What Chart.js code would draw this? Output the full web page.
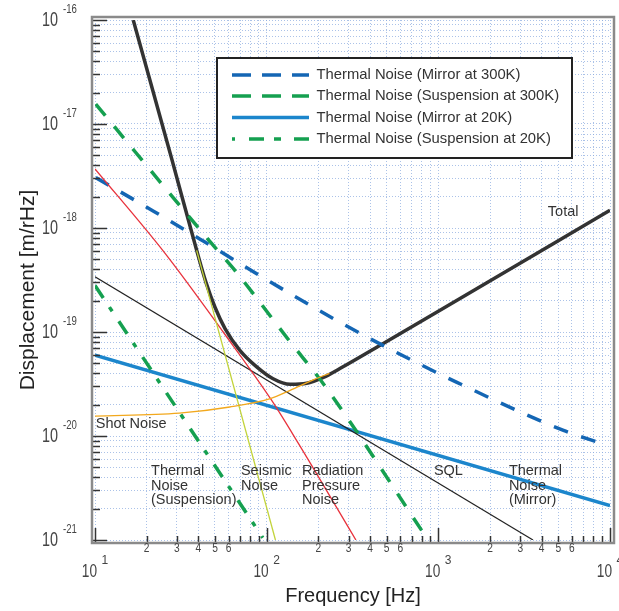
<!DOCTYPE html>
<html>
<head>
<meta charset="utf-8">
<script src="https://cdn.jsdelivr.net/npm/chart.js@4.4.1/dist/chart.umd.min.js"></script>
<style>
  html, body { margin: 0; padding: 0; background: #fff; }
  #wrap { width: 619px; height: 611px; }
</style>
</head>
<body>
<div id="wrap"><canvas id="noise_chart" width="619" height="611"></canvas></div>
<script>
(function() {
  'use strict';

  // Curves (frequency in Hz, displacement in m/rHz)
  var total_freq = [16.7, 28, 39.1, 44.3, 50, 57.2, 69.8, 87.5, 109, 137, 171, 214, 267, 478, 1000, 10000];
  var total_disp = [1.0e-16, 4.6e-18, 6.1e-19, 3.0e-19, 1.73e-19, 1.08e-19, 6.67e-20, 4.62e-20, 3.55e-20, 3.14e-20, 3.21e-20, 3.66e-20, 4.45e-20, 7.76e-20, 1.58e-19, 1.48e-18];

  var shot_freq = [10, 31, 61, 105, 137, 187, 232];
  var shot_disp = [1.55e-20, 1.66e-20, 1.9e-20, 2.29e-20, 2.75e-20, 3.47e-20, 4.0e-20];

  var seismic_freq = [39.1, 112.5];
  var seismic_disp = [6.1e-19, 1.0e-21];

  var radiation_freq = [10, 25.6, 55.8, 107, 153, 331];
  var radiation_disp = [3.7e-18, 5.7e-19, 1.0e-19, 2.2e-20, 8.5e-21, 1.0e-21];

  var sql_freq = [10, 3560];
  var sql_disp = [3.4e-19, 1.0e-21];

  var mirror300_freq = [10.1, 21.8, 43.2, 87.5, 256, 478, 1274, 5358, 8730];
  var mirror300_disp = [3.05e-18, 1.46e-18, 7.4e-19, 3.63e-19, 1.29e-19, 7.4e-20, 3.3e-20, 1.13e-20, 8.6e-21];

  var susp300_freq = [10.1, 50, 64.6, 135, 221, 871];
  var susp300_disp = [1.55e-17, 6.5e-19, 4.0e-19, 8.3e-20, 2.95e-20, 1.0e-21];

  var mirror20_freq = [10, 10000];
  var mirror20_disp = [6.0e-20, 2.14e-21];

  var susp20_freq = [10, 95];
  var susp20_disp = [2.8e-19, 1.05e-21];

  // Tick labels
  var x_decades = [1, 2, 3, 4];
  var x_minor_labels = [2, 3, 4, 5, 6];
  var y_decades = [-16, -17, -18, -19, -20, -21];

  var legend_labels = [
    'Thermal Noise (Mirror at 300K)',
    'Thermal Noise (Suspension at 300K)',
    'Thermal Noise (Mirror at 20K)',
    'Thermal Noise (Suspension at 20K)'
  ];

  // In-plot labels, anchored at [frequency, displacement] of their first line
  var notes = [
    { lines: ['Total'], f: 4345, d: 1.41e-18 },
    { lines: ['Shot Noise'], f: 10.1, d: 1.29e-20 },
    { lines: ['Thermal', 'Noise', '(Suspension)'], f: 21.2, d: 4.6e-21 },
    { lines: ['Seismic', 'Noise'], f: 70.8, d: 4.6e-21 },
    { lines: ['Radiation', 'Pressure', 'Noise'], f: 160.7, d: 4.6e-21 },
    { lines: ['SQL'], f: 942, d: 4.6e-21 },
    { lines: ['Thermal', 'Noise', '(Mirror)'], f: 2576, d: 4.6e-21 }
  ];

  var FONT = '"Liberation Sans", Arial, Helvetica, sans-serif';

  var zip = function(xs, ys) {
    return xs.map(function(x, i) { return { x: x, y: ys[i] }; });
  };

  // 1..9 x 10^n values used for grid lines and tick marks
  var decadeSteps = function(lo, hi) {
    var out = [];
    for (var e = lo; e < hi; e++) {
      for (var m = 1; m < 10; m++) {
        out.push(parseFloat((m * Math.pow(10, e)).toPrecision(3)));
      }
    }
    out.push(Math.pow(10, hi));
    return out;
  };
  var x_grid = decadeSteps(1, 4);
  var y_grid = decadeSteps(-21, -16);

  var isMajor = function(v) {
    var l = Math.log10(v);
    return Math.abs(l - Math.round(l)) < 1e-6;
  };

  var line = function(label, xs, ys, color, width, dash, smooth) {
    return {
      label: label,
      data: zip(xs, ys),
      borderColor: color,
      backgroundColor: color,
      borderWidth: width,
      borderDash: dash || [],
      borderCapStyle: 'butt',
      pointRadius: 0,
      showLine: true,
      fill: false,
      cubicInterpolationMode: smooth ? 'monotone' : 'default',
      tension: 0
    };
  };

  var BLUE_DASH = '#1466b4';
  var BLUE_SOLID = '#1c86cc';
  var GREEN = '#15a050';
  var DASH_300 = [15, 14];
  var DASH_20 = [15, 11, 5, 12];

  var datasets = [
    line('Shot Noise', shot_freq, shot_disp, '#f2a81d', 1.3, null, true),
    line('Seismic Noise', seismic_freq, seismic_disp, '#c2d33a', 1.3),
    line('Radiation Pressure Noise', radiation_freq, radiation_disp, '#e8323c', 1.3, null, true),
    line('SQL', sql_freq, sql_disp, '#222222', 1.2),
    line(legend_labels[3], susp20_freq, susp20_disp, GREEN, 3.5, DASH_20),
    line(legend_labels[1], susp300_freq, susp300_disp, GREEN, 3.5, DASH_300, true),
    line(legend_labels[2], mirror20_freq, mirror20_disp, BLUE_SOLID, 3.5),
    line(legend_labels[0], mirror300_freq, mirror300_disp, BLUE_DASH, 3.5, DASH_300, true),
    line('Total', total_freq, total_disp, '#333333', 3.5, null, true)
  ];

  // condensed "10" drawn right-aligned at x
  var tenText = function(ctx, x, y, size) {
    ctx.save();
    ctx.translate(x, y);
    ctx.scale(0.72, 1);
    ctx.font = size + 'px ' + FONT;
    ctx.textAlign = 'right';
    ctx.textBaseline = 'middle';
    ctx.fillText('10', 0, 0);
    ctx.restore();
  };

  var decor = {
    id: 'decor',
    afterDraw: function(chart) {
      var ctx = chart.ctx;
      var xs = chart.scales.x;
      var ys = chart.scales.y;
      var area = chart.chartArea;
      var fL = area.left - 3, fT = area.top - 3, fR = area.right + 4, fB = area.bottom + 3;

      ctx.save();

      // tick marks along the bottom
      ctx.strokeStyle = '#333';
      ctx.lineWidth = 1.5;
      x_grid.forEach(function(v) {
        var px = Math.round(xs.getPixelForValue(v)) + 0.5;
        var len = isMajor(v) ? 15 : 7;
        ctx.beginPath();
        ctx.moveTo(px, fB);
        ctx.lineTo(px, fB - len);
        ctx.stroke();
      });
      // tick marks along the left
      y_grid.forEach(function(v) {
        var py = Math.round(ys.getPixelForValue(v)) + 0.5;
        var len = isMajor(v) ? 15 : 8;
        ctx.beginPath();
        ctx.moveTo(fL, py);
        ctx.lineTo(fL + len, py);
        ctx.stroke();
      });

      // frame
      ctx.strokeStyle = '#8a8a8a';
      ctx.lineWidth = 2.5;
      ctx.strokeRect(fL, fT, fR - fL, fB - fT);

      ctx.fillStyle = '#444';

      // x tick labels
      x_decades.forEach(function(e) {
        var px = xs.getPixelForValue(Math.pow(10, e));
        tenText(ctx, px + 2, 572, 19);
        ctx.font = '12px ' + FONT;
        ctx.textAlign = 'left';
        ctx.textBaseline = 'middle';
        ctx.fillText(String(e), px + 6.5, 561);
        if (e < 4) {
          x_minor_labels.forEach(function(m) {
            var mx = xs.getPixelForValue(m * Math.pow(10, e));
            ctx.save();
            ctx.translate(mx, 549);
            ctx.scale(0.85, 1);
            ctx.font = '12px ' + FONT;
            ctx.textAlign = 'center';
            ctx.textBaseline = 'middle';
            ctx.fillText(String(m), 0, 0);
            ctx.restore();
          });
        }
      });

      // y tick labels
      y_decades.forEach(function(e) {
        var py = ys.getPixelForValue(Math.pow(10, e));
        tenText(ctx, 58, py, 20);
        ctx.save();
        ctx.translate(63, py - 10);
        ctx.scale(0.8, 1);
        ctx.font = '12px ' + FONT;
        ctx.textAlign = 'left';
        ctx.textBaseline = 'middle';
        ctx.fillText(String(e), 0, 0);
        ctx.restore();
      });

      // axis titles
      ctx.fillStyle = '#222';
      ctx.font = '20px ' + FONT;
      ctx.textAlign = 'center';
      ctx.textBaseline = 'middle';
      ctx.fillText('Frequency [Hz]', (fL + fR) / 2, 596);
      ctx.save();
      ctx.translate(28, 290);
      ctx.rotate(-Math.PI / 2);
      ctx.font = '21px ' + FONT;
      ctx.fillText('Displacement [m/rHz]', 0, 0);
      ctx.restore();

      // in-plot labels
      ctx.fillStyle = '#333';
      ctx.font = '14.5px ' + FONT;
      ctx.textAlign = 'left';
      notes.forEach(function(n) {
        var nx = xs.getPixelForValue(n.f);
        var ny = ys.getPixelForValue(n.d);
        n.lines.forEach(function(t, i) {
          ctx.fillText(t, nx, ny + i * 14.7);
        });
      });

      // legend
      var lx = 217, ly = 58, lw = 355, lh = 100;
      ctx.fillStyle = '#fff';
      ctx.fillRect(lx, ly, lw, lh);
      ctx.strokeStyle = '#222';
      ctx.lineWidth = 2;
      ctx.strokeRect(lx, ly, lw, lh);
      var rows = [
        { y: 75, color: BLUE_DASH, dash: [19, 11] },
        { y: 96, color: GREEN, dash: [19, 11] },
        { y: 117.5, color: BLUE_SOLID, dash: [] },
        { y: 139, color: GREEN, dash: [3, 14, 15, 10, 7, 13, 15] }
      ];
      rows.forEach(function(r, i) {
        ctx.strokeStyle = r.color;
        ctx.lineWidth = 3.5;
        ctx.lineCap = 'butt';
        ctx.setLineDash(r.dash);
        ctx.beginPath();
        ctx.moveTo(232, r.y);
        ctx.lineTo(309, r.y);
        ctx.stroke();
        ctx.setLineDash([]);
        ctx.fillStyle = '#333';
        ctx.font = '14.8px ' + FONT;
        ctx.textAlign = 'left';
        ctx.textBaseline = 'middle';
        ctx.fillText(legend_labels[i], 316.5, r.y);
      });

      ctx.restore();
    }
  };

  var gridOpts = {
    color: 'rgba(135, 168, 222, 0.7)',
    lineWidth: 1,
    drawTicks: false,
    tickLength: 0
  };

  var chart_canvas = document.getElementById('noise_chart').getContext('2d');
  var noiseChart = new Chart(chart_canvas, {
    type: 'scatter',
    data: { datasets: datasets },
    options: {
      responsive: false,
      animation: false,
      devicePixelRatio: 1,
      layout: {
        padding: { left: 95, right: 9, top: 20, bottom: 71 }
      },
      plugins: {
        legend: { display: false },
        tooltip: { enabled: false }
      },
      scales: {
        x: {
          type: 'logarithmic',
          min: 10,
          max: 10000,
          afterBuildTicks: function(scale) {
            scale.ticks = x_grid.map(function(v) { return { value: v }; });
          },
          ticks: { display: false },
          grid: gridOpts,
          border: { display: false, dash: [1, 2] }
        },
        y: {
          type: 'logarithmic',
          min: 1e-21,
          max: 1e-16,
          afterBuildTicks: function(scale) {
            scale.ticks = y_grid.map(function(v) { return { value: v }; });
          },
          ticks: { display: false },
          grid: gridOpts,
          border: { display: false, dash: [1, 2] }
        }
      }
    },
    plugins: [decor]
  });
})();
</script>
</body>
</html>
